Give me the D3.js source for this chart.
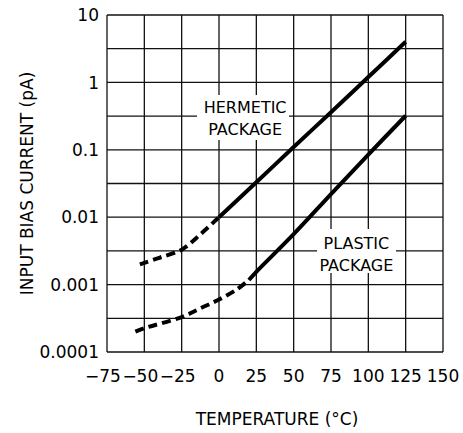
<!DOCTYPE html>
<html>
<head>
<meta charset="utf-8">
<script src="https://cdn.jsdelivr.net/npm/d3@7"></script>
<style>
  body { margin: 0; background: #fff; }
  text { font-family: "DejaVu Sans", sans-serif; fill: #000; }
</style>
</head>
<body>
<div id="chart"></div>
<script>
// data
var xTicks = [-75, -50, -25, 0, 25, 50, 75, 100, 125, 150];
var yTicks = [0.0001, 0.001, 0.01, 0.1, 1, 10];
var yTickLabels = ["0.0001", "0.001", "0.01", "0.1", "1", "10"];

var hermDashT = [-53, -50, -40, -25, -12, 0];
var hermDashV = [0.002, 0.0021, 0.0025, 0.0033, 0.0057, 0.01];
var hermSolidT = [0, 25, 50, 75, 100, 125];
var hermSolidV = [0.01, 0.033, 0.11, 0.36, 1.2, 4.0];

var plasDashT = [-56, -50, -25, -12, 0, 12, 20];
var plasDashV = [0.0002, 0.000225, 0.00033, 0.00045, 0.0006, 0.00085, 0.00117];
var plasSolidT = [20, 25, 50, 75, 100, 125];
var plasSolidV = [0.00117, 0.00155, 0.0056, 0.022, 0.085, 0.32];

// set the dimensions
var width = 463, height = 433;
var margin = { top: 15, right: 20, bottom: 81, left: 107 };

var svg = d3.select("#chart")
    .append("svg")
    .attr("width", width)
    .attr("height", height);

var x = d3.scaleLinear()
    .domain([-75, 150])
    .range([margin.left, width - margin.right]);

var y = d3.scaleLog()
    .domain([0.0001, 10])
    .range([height - margin.bottom, margin.top]);

// grid: every 25 degC, every half decade
var grid = svg.append("g")
    .attr("stroke", "#111")
    .attr("stroke-width", 1.3);

xTicks.forEach(function(t) {
    grid.append("line")
        .attr("x1", x(t)).attr("x2", x(t))
        .attr("y1", y.range()[0]).attr("y2", y.range()[1]);
});

var halfDecades = [];
for (var k = -4; k <= 1; k += 0.5) halfDecades.push(Math.pow(10, k));
halfDecades.forEach(function(v) {
    grid.append("line")
        .attr("x1", x.range()[0]).attr("x2", x.range()[1])
        .attr("y1", y(v)).attr("y2", y(v));
});

// y tick labels
svg.append("g").selectAll("text")
    .data(yTicks)
    .enter()
    .append("text")
    .attr("x", margin.left - 8)
    .attr("y", function(d) { return y(d); })
    .attr("dy", "0.36em")
    .attr("text-anchor", "end")
    .attr("font-size", 17)
    .text(function(d, i) { return yTickLabels[i]; });

// x tick labels
svg.append("g").selectAll("text")
    .data(xTicks)
    .enter()
    .append("text")
    .attr("x", function(d) { return x(d) + (d < 0 ? -4 : 0); })
    .attr("y", y.range()[0] + 30)
    .attr("text-anchor", "middle")
    .attr("font-size", 17)
    .text(function(d) { return d < 0 ? "\u2212" + Math.abs(d) : d; });

// axis titles
svg.append("text")
    .attr("x", 277)
    .attr("y", 425)
    .attr("text-anchor", "middle")
    .attr("font-size", 17)
    .text("TEMPERATURE (\u00B0C)");

svg.append("text")
    .attr("transform", "translate(33," + ((y.range()[0] + y.range()[1]) / 2) + ") rotate(-90)")
    .attr("text-anchor", "middle")
    .attr("font-size", 17)
    .text("INPUT BIAS CURRENT (pA)");

// curves
var line = d3.line()
    .x(function(d) { return x(d[0]); })
    .y(function(d) { return y(d[1]); })
    .curve(d3.curveCatmullRom.alpha(0.5));

function drawCurve(ts, vs, dashed) {
    svg.append("path")
        .datum(d3.zip(ts, vs))
        .attr("d", line)
        .attr("fill", "none")
        .attr("stroke", "#000")
        .attr("stroke-width", 4)
        .attr("stroke-dasharray", dashed ? "9,5" : null);
}
drawCurve(hermDashT, hermDashV, true);
drawCurve(hermSolidT, hermSolidV, false);
drawCurve(plasDashT, plasDashV, true);
drawCurve(plasSolidT, plasSolidV, false);

// labels with white boxes
function label(cx, lines, top, bottom, baselines, boxL, boxR) {
    svg.append("rect")
        .attr("x", boxL).attr("y", top)
        .attr("width", boxR - boxL).attr("height", bottom - top)
        .attr("fill", "#fff");
    lines.forEach(function(s, i) {
        svg.append("text")
            .attr("x", cx)
            .attr("y", baselines[i])
            .attr("text-anchor", "middle")
            .attr("font-size", 16)
            .text(s);
    });
}
label(x(17.5), ["HERMETIC", "PACKAGE"], 95, 140, [112.5, 134.5], 197, 289);
label(x(92), ["PLASTIC", "PACKAGE"], 229, 273, [248.5, 270.5], 317, 396);
</script>
</body>
</html>
